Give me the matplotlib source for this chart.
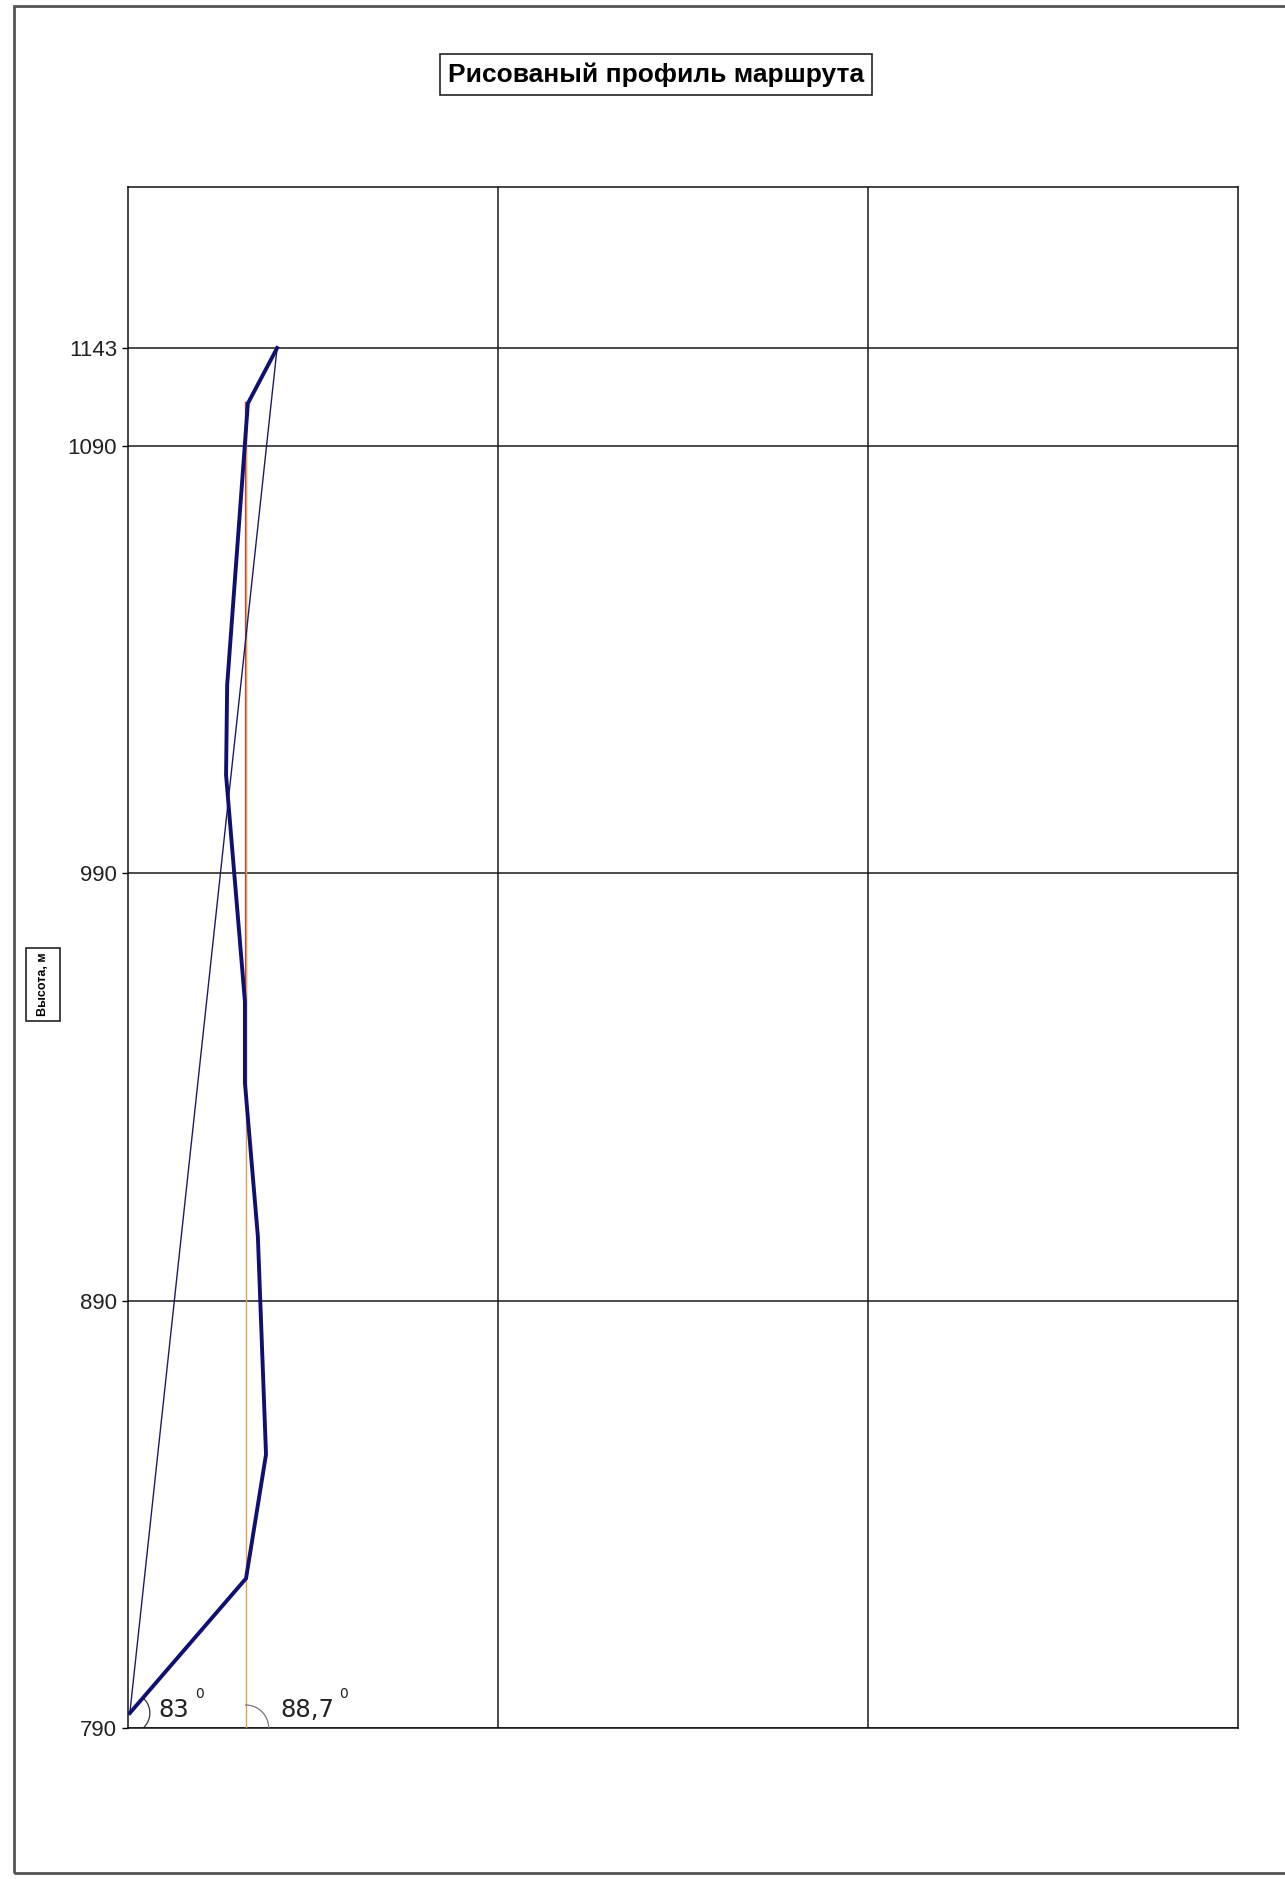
import numpy as np
import matplotlib
matplotlib.use('Agg')
import matplotlib.pyplot as plt
from matplotlib.patches import Rectangle

plt.rcParams['font.family'] = ['Liberation Sans', 'DejaVu Sans']

# Profile of the route (x in grid columns, height in m)
profile_x = [0.005, 0.319, 0.373, 0.351, 0.316, 0.316, 0.265, 0.268, 0.324, 0.403]
profile_h = [793.5, 825, 854, 905, 941, 960, 1013, 1034, 1113, 1143]

# straight line start -> top, and the vertical reference line
chord_x = [profile_x[0], profile_x[-1]]
chord_h = [profile_h[0], profile_h[-1]]
vert_x = 0.318
vert_h = [790, 1113]
red_h = [941, 1113]

yticks = [790, 890, 990, 1090, 1143]
angle_labels = ['83', '88,7']

# axis: linear up to 1090, compressed above (drawn profile)
k = 0.432
def fwd(v):
    v = np.asarray(v, dtype=float)
    return np.where(v <= 1090, v, 1090 + (v - 1090) * k)
def inv(f):
    f = np.asarray(f, dtype=float)
    return np.where(f <= 1090, f, 1090 + (f - 1090) / k)

fig = plt.figure(figsize=(12.85, 18.79), dpi=100)
fig.patch.set_facecolor('white')

# outer chart frame (right side cut off)
fig.add_artist(Rectangle((14 / 1285, 1 - 1873 / 1879), 1.05, (1873 - 6) / 1879,
                         transform=fig.transFigure, fill=False,
                         edgecolor='#555555', lw=2, clip_on=False))

ax = fig.add_axes([128 / 1285, 1 - 1728 / 1879, 1110 / 1285, 1541 / 1879])
ax.set_yscale('function', functions=(fwd, inv))
ax.set_xlim(0, 3)
ax.set_ylim(790, 1230.2)

ax.set_yticks(yticks)
ax.set_yticklabels([str(t) for t in yticks], fontsize=16, color='#222222')
ax.set_xticks([1, 2])
ax.tick_params(axis='x', length=0, labelbottom=False)
ax.tick_params(axis='y', length=4, width=1, pad=4)
ax.grid(True, color='#1a1a1a', lw=1.1)
ax.set_axisbelow(True)
for s in ax.spines.values():
    s.set_color('#111111')
    s.set_linewidth(1.1)

ax.plot([vert_x, vert_x], red_h, color='#b03040', lw=1.6, zorder=3)
ax.plot([vert_x, vert_x], vert_h, color='#e0a050', lw=1.0, zorder=3)
ax.plot(chord_x, chord_h, color='#1c1c60', lw=1.0, zorder=4)
ax.plot(profile_x, profile_h, color='#101070', lw=2.8, zorder=5,
        solid_joinstyle='miter')

# angle arcs (pixel radius converted to data units)
px_x = 1110 / 3
px_y = 427.4 / 100
t = np.linspace(np.radians(-45), np.radians(45), 30)
ax.plot(profile_x[0] + 20 * np.cos(t) / px_x, profile_h[0] + 20 * np.sin(t) / px_y,
        color='#333333', lw=0.9, zorder=4)
t = np.linspace(0, np.pi / 2, 30)
ax.plot(vert_x + 23 * np.cos(t) / px_x, 790 + 23 * np.sin(t) / px_y,
        color='#777777', lw=0.9, zorder=4)

ax.text(0.081, 792.6, angle_labels[0], fontsize=17.5, color='#222222',
        family='DejaVu Sans', va='baseline', zorder=6)
ax.text(0.181, 799.6, '0', fontsize=10, color='#222222', va='top',
        family='DejaVu Sans', zorder=6)
ax.text(0.411, 792.6, angle_labels[1], fontsize=17.5, color='#222222',
        family='DejaVu Sans', va='baseline', zorder=6)
ax.text(0.570, 799.6, '0', fontsize=10, color='#222222', va='top',
        family='DejaVu Sans', zorder=6)

fig.text(656 / 1285, 1 - 74.5 / 1879, 'Рисованый профиль маршрута',
         fontsize=19, fontweight='bold', ha='center', va='center',
         bbox=dict(boxstyle='square,pad=0.3', fc='white', ec='#222222', lw=1.2))

# y axis title in its own box
fig.add_artist(Rectangle((26 / 1285, 1 - 1021 / 1879), 34 / 1285, 73 / 1879,
                         transform=fig.transFigure, fc='white',
                         ec='#222222', lw=1.2))
fig.text(43.5 / 1285, 1 - 984.5 / 1879, 'Высота, м', rotation=90,
         fontsize=9, fontweight='bold', ha='center', va='center')

fig.savefig('out.png', dpi=100)
